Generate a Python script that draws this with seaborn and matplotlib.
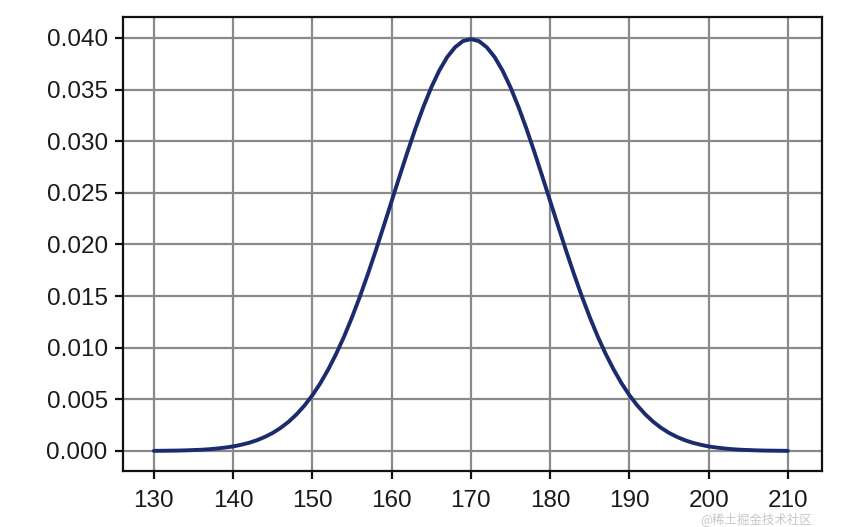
import matplotlib
matplotlib.use("Agg")
import matplotlib.pyplot as plt
import seaborn as sns
import pandas as pd

# values (density vs height), one per unit of height
heights = list(range(130, 211))
density = [0.00001, 0.00002, 0.00003, 0.00004, 0.00006, 0.00009, 0.00012, 0.00017,
           0.00024, 0.00033, 0.00044, 0.00060, 0.00079, 0.00104, 0.00136, 0.00175,
           0.00224, 0.00283, 0.00355, 0.00440, 0.00540, 0.00656, 0.00790, 0.00941,
           0.01109, 0.01295, 0.01497, 0.01714, 0.01942, 0.02179, 0.02420, 0.02661,
           0.02897, 0.03123, 0.03332, 0.03521, 0.03683, 0.03814, 0.03910, 0.03970,
           0.03989,
           0.03970, 0.03910, 0.03814, 0.03683, 0.03521, 0.03332, 0.03123, 0.02897,
           0.02661, 0.02420, 0.02179, 0.01942, 0.01714, 0.01497, 0.01295, 0.01109,
           0.00941, 0.00790, 0.00656, 0.00540, 0.00440, 0.00355, 0.00283, 0.00224,
           0.00175, 0.00136, 0.00104, 0.00079, 0.00060, 0.00044, 0.00033, 0.00024,
           0.00017, 0.00012, 0.00009, 0.00006, 0.00004, 0.00003, 0.00002, 0.00001]
x_ticks = [130, 140, 150, 160, 170, 180, 190, 200, 210]
y_ticks = [0.000, 0.005, 0.010, 0.015, 0.020, 0.025, 0.030, 0.035, 0.040]

sns.set_style("white")
plt.rcParams['font.family'] = ['Liberation Sans', 'DejaVu Sans']

df = pd.DataFrame({"height": heights, "density": density})

fig = plt.figure(figsize=(8.62, 5.27), dpi=100)
ax = fig.add_axes([123 / 862, 1 - 471 / 527, (822 - 123) / 862, (471 - 17) / 527])

sns.lineplot(data=df, x="height", y="density", ax=ax, color="#1c2b6e", linewidth=2.8, zorder=3)

ax.set_xlim(126.1, 214.3)
ax.set_ylim(-0.00194, 0.04203)
ax.set_xticks(x_ticks)
ax.set_yticks(y_ticks)
ax.set_xticklabels([str(t) for t in x_ticks])
ax.set_yticklabels([f"{t:.3f}" for t in y_ticks])
ax.set_xlabel("")
ax.set_ylabel("")
ax.grid(True, color="#8a8a8a", linewidth=1.6, zorder=0)
ax.set_axisbelow(True)
for s in ax.spines.values():
    s.set_color("#111111")
    s.set_linewidth(1.6)
ax.tick_params(axis="both", direction="out", length=6, width=1.6, color="#111111",
               labelsize=17.5, labelcolor="#1a1a1a", pad=5, bottom=True, left=True)
ax.tick_params(axis="x", pad=8)

fig.text(700 / 862, 0.5 / 527, "@稀土掘金技术社区", color="#c8c8c8", fontsize=9,
         family=['Noto Sans CJK SC', 'DejaVu Sans'], va="bottom", ha="left")

fig.savefig("out.png", dpi=100)
